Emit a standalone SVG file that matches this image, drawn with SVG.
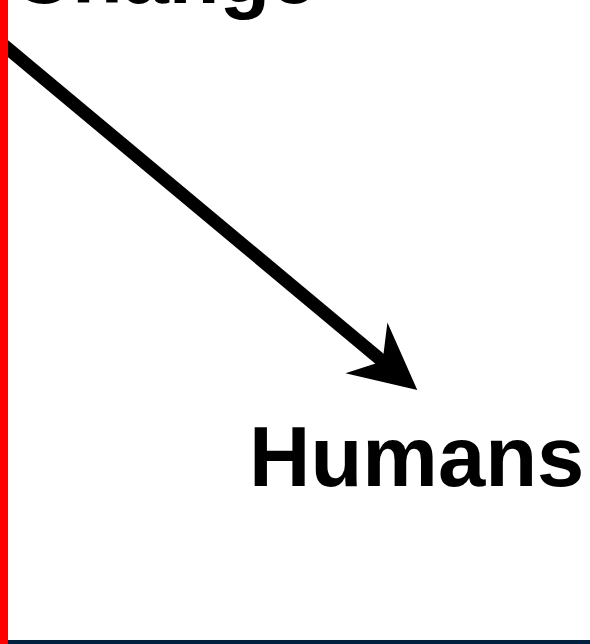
<svg xmlns="http://www.w3.org/2000/svg" width="590" height="644" viewBox="0 0 590 644">
<style>
.lbl{font-family:"Liberation Sans",Arial,sans-serif;font-weight:bold;font-size:85px;fill:#000}
</style>
<rect x="0" y="0" width="590" height="644" fill="#ffffff"/>
<g id="connectors">
<line x1="-5" y1="37.9" x2="384" y2="362.4" stroke="#000" stroke-width="13"/>
<path d="M417.3,390 L387.4,322.5 L382.6,361.3 L345.4,373.3 Z" fill="#000"/>
</g>
<g id="node-change"><text class="lbl" x="12" y="3" style="font-size:83px">Change</text></g>
<g id="node-humans"><text class="lbl" x="249" y="486">Humans</text></g>
<rect x="0" y="0" width="8" height="644" fill="#ff0000"/>
<rect x="8" y="640" width="582" height="4" fill="#002040"/>
</svg>
